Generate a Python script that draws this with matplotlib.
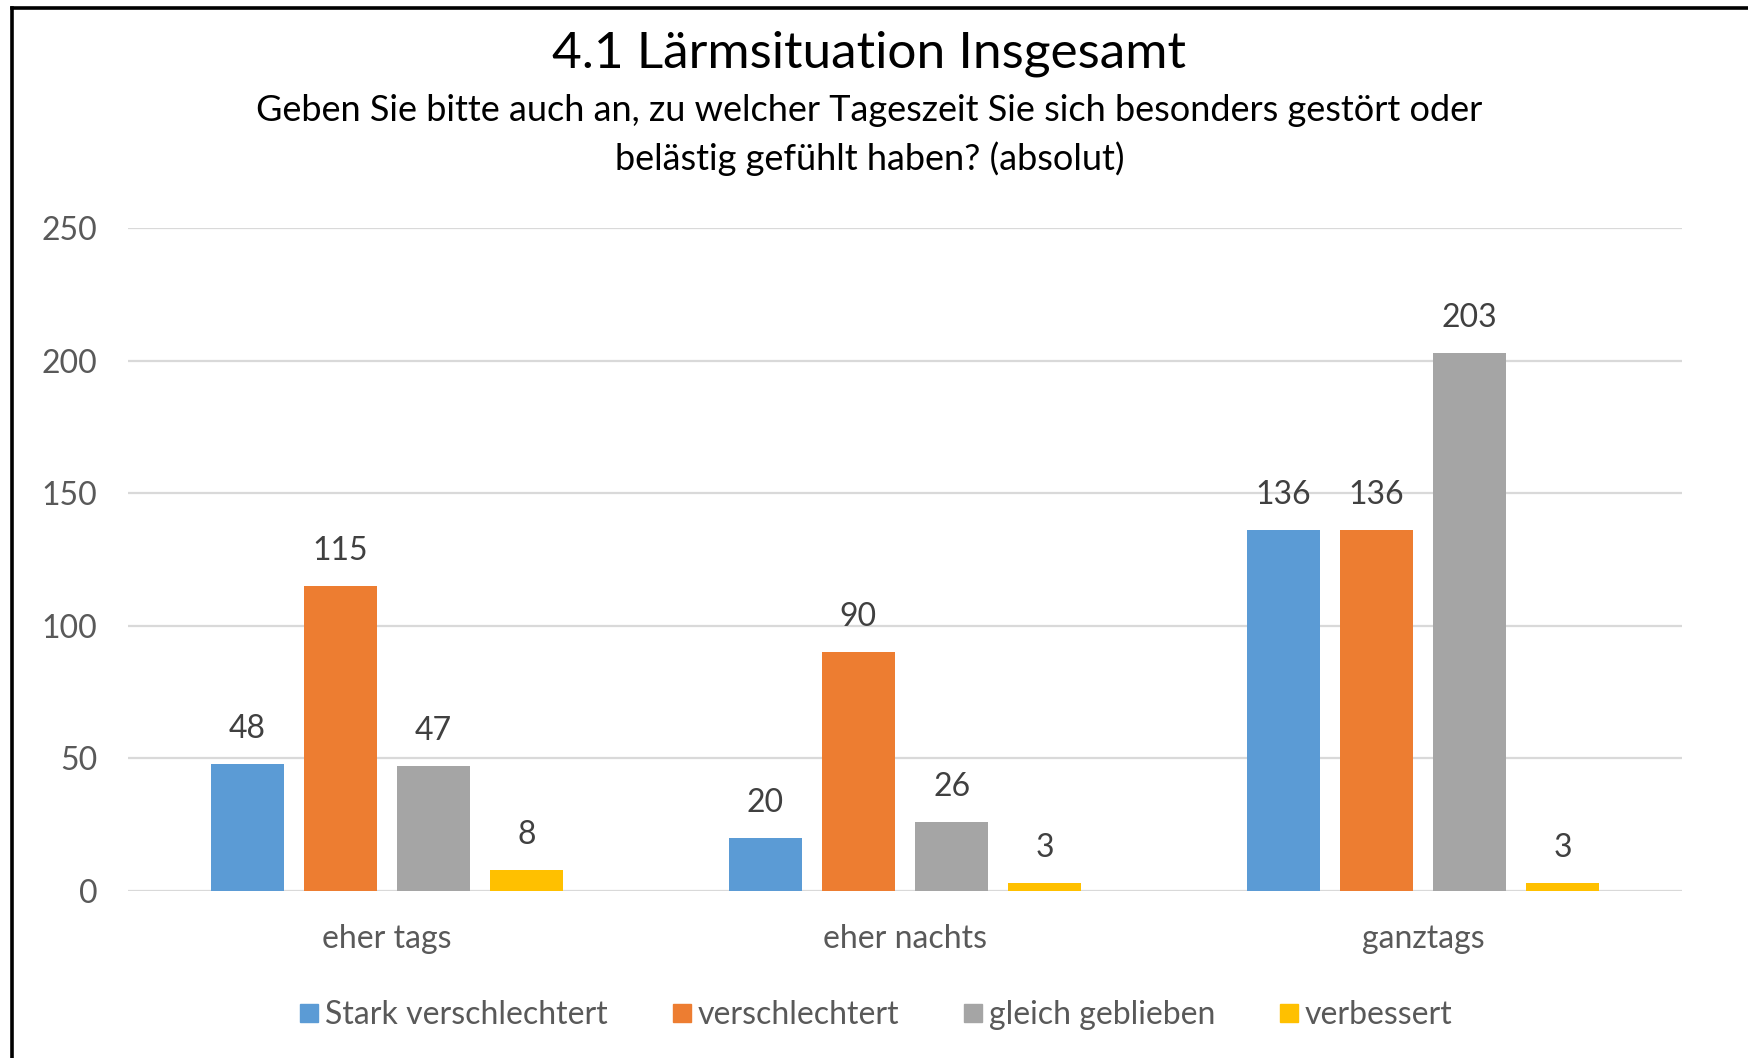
import matplotlib.pyplot as plt
import numpy as np
from matplotlib.lines import Line2D

plt.rcParams["font.family"] = ["Lato", "DejaVu Sans"]

categories = ["eher tags", "eher nachts", "ganztags"]
series = ["Stark verschlechtert", "verschlechtert", "gleich geblieben", "verbessert"]
stark = [48, 20, 136]
schlechter = [115, 90, 136]
gleich = [47, 26, 203]
besser = [8, 3, 3]
colors = ["#5B9BD5", "#ED7D31", "#A5A5A5", "#FFC000"]

fig = plt.figure(figsize=(17.49, 10.58), dpi=100)
ax = fig.add_axes([128 / 1749, 1 - 891 / 1058, (1682 - 128) / 1749, (891 - 228) / 1058])

x = np.arange(len(categories))
width = 0.141
step = 0.18
for i, (vals, name, col) in enumerate(zip([stark, schlechter, gleich, besser], series, colors)):
    bars = ax.bar(x + (i - 1.5) * step, vals, width, color=col, label=name, zorder=3)
    ax.bar_label(bars, padding=14.5, fontsize=23, color="#404040")

ax.set_xlim(-0.5, 2.5)
ax.set_ylim(0, 250)
ax.set_yticks(range(0, 251, 50))
ax.set_xticks(x, categories)
ax.grid(axis="y", color="#D9D9D9", linewidth=1.6, zorder=0)
for s in ax.spines.values():
    s.set_visible(False)
ax.tick_params(axis="y", length=0, pad=22, labelsize=23, labelcolor="#595959")
ax.tick_params(axis="x", length=0, pad=24, labelsize=23, labelcolor="#595959")

fig.text(0.497, 1 - 54 / 1058, "4.1 Lärmsituation Insgesamt", ha="center", va="center",
         fontsize=37, color="#000000")
fig.text(0.497, 1 - 135 / 1058,
         "Geben Sie bitte auch an, zu welcher Tageszeit Sie sich besonders gestört oder\n"
         "belästig gefühlt haben? (absolut)",
         ha="center", va="center", fontsize=26, color="#000000", linespacing=1.5)

handles = [Line2D([], [], marker="s", linestyle="none", markersize=13, color=c) for c in colors]
fig.legend(handles, series, loc="center", bbox_to_anchor=(0.5, 1 - 1015 / 1058), ncol=4,
           frameon=False, fontsize=23, labelcolor="#595959", handletextpad=0.1,
           columnspacing=1.9, handlelength=0.8)

# frame of the original screenshot
fig.add_artist(Line2D([12 / 1749, 12 / 1749], [0, 1 - 8 / 1058], color="black", linewidth=2.6))
fig.add_artist(Line2D([12 / 1749, 1], [1 - 8 / 1058, 1 - 8 / 1058], color="black", linewidth=2.6))

fig.savefig("out.png", dpi=100)
